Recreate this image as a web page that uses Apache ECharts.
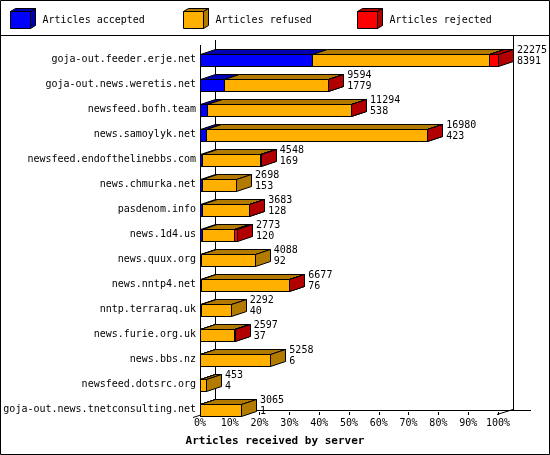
<!DOCTYPE html>
<html>
<head>
<meta charset="utf-8">
<script src="https://cdn.jsdelivr.net/npm/echarts@6/dist/echarts.min.js"></script>
<style>
  html, body { margin: 0; padding: 0; background: #fff; }
  #chart { width: 550px; height: 455px; }
</style>
</head>
<body>
<div id="chart"></div>
<script>
// servers, top to bottom
var servers = [
    'goja-out.feeder.erje.net',
    'goja-out.news.weretis.net',
    'newsfeed.bofh.team',
    'news.samoylyk.net',
    'newsfeed.endofthelinebbs.com',
    'news.chmurka.net',
    'pasdenom.info',
    'news.1d4.us',
    'news.quux.org',
    'news.nntp4.net',
    'nntp.terraraq.uk',
    'news.furie.org.uk',
    'news.bbs.nz',
    'newsfeed.dotsrc.org',
    'goja-out.news.tnetconsulting.net'
];
var accepted = [8391, 1779, 538, 423, 169, 153, 128, 120, 92, 76, 40, 37, 6, 4, 1];
var refused  = [13234, 7790, 10726, 16517, 4339, 2545, 3525, 2443, 3996, 6571, 2252, 2540, 5252, 449, 3064];
var rejected = [650, 25, 30, 40, 40, 0, 30, 210, 0, 30, 0, 20, 0, 0, 0];
var xTicks = [0, 10, 20, 30, 40, 50, 60, 70, 80, 90, 100];

var names  = ['Articles accepted', 'Articles refused', 'Articles rejected'];
var colors = ['#0000ff', '#ffb000', '#ff0000'];
var shades = ['#0000b2', '#b27b00', '#b20000'];
var FONT = '"DejaVu Sans Mono", "Liberation Mono", monospace';

var parts = [accepted, refused, rejected];
var totals = servers.map(function (s, i) { return accepted[i] + refused[i] + rejected[i]; });
var maxTotal = Math.max.apply(null, totals);
function pct(v) { return v / maxTotal * 100; }

// segments [index, start%, end%]
var segData = parts.map(function (arr, k) {
    return servers.map(function (s, i) {
        var start = 0;
        for (var j = 0; j < k; j++) start += parts[j][i];
        return [i, pct(start), pct(start + arr[i])];
    });
});
var labelData = servers.map(function (s, i) {
    return [i, pct(totals[i]), totals[i], accepted[i]];
});

var DX = 15, DY = 5;

function renderSeg(params, api) {
    var idx = api.value(0);
    var s = api.value(1), e = api.value(2);
    if (e - s <= 0) return null;
    var a = api.coord([s, idx]);
    var b = api.coord([e, idx]);
    var h = 12;
    var x0 = Math.round(a[0]) + 0.5, x1 = Math.round(b[0]) + 0.5;
    var y0 = Math.round(a[1] - h / 2) + 0.5, y1 = y0 + h;
    var k = params.seriesIndex;
    return {
        type: 'group',
        children: [
            { type: 'polygon', shape: { points: [[x0, y0], [x1, y0], [x1 + DX, y0 - DY], [x0 + DX, y0 - DY]] },
              style: { fill: shades[k], stroke: '#000', lineWidth: 1 } },
            { type: 'polygon', shape: { points: [[x1, y0], [x1 + DX, y0 - DY], [x1 + DX, y1 - DY], [x1, y1]] },
              style: { fill: shades[k], stroke: '#000', lineWidth: 1 } },
            { type: 'rect', shape: { x: x0, y: y0, width: x1 - x0, height: h },
              style: { fill: colors[k], stroke: '#000', lineWidth: 1 } }
        ]
    };
}

function renderLabel(params, api) {
    var p = api.coord([api.value(1), api.value(0)]);
    var x = p[0] + 19;
    return {
        type: 'group',
        children: [
            { type: 'text', style: { x: x, y: p[1] - 9.5, text: String(api.value(2)), fill: '#000',
              font: '10px ' + FONT, verticalAlign: 'middle' } },
            { type: 'text', style: { x: x, y: p[1] + 1.5, text: String(api.value(3)), fill: '#000',
              font: '10px ' + FONT, verticalAlign: 'middle' } }
        ]
    };
}

var chart = echarts.init(document.getElementById('chart'));

var series = names.map(function (n, k) {
    return {
        name: n,
        type: 'custom',
        renderItem: renderSeg,
        itemStyle: { color: colors[k] },
        encode: { x: [1, 2], y: 0 },
        data: segData[k]
    };
});
series.push({
    name: 'labels',
    type: 'custom',
    silent: true,
    renderItem: renderLabel,
    encode: { x: 1, y: 0 },
    data: labelData,
    z: 5
});

// legend boxes, one legend per item
var legendLeft = [10, 183, 357];
var legends = names.map(function (n, k) {
    return {
        data: [n],
        left: legendLeft[k],
        top: 11,
        padding: 0,
        icon: 'rect',
        itemWidth: 20,
        itemHeight: 17,
        itemStyle: { borderColor: '#000', borderWidth: 1 },
        selectedMode: false,
        textStyle: { fontFamily: FONT, fontSize: 10, color: '#000', padding: [1, 0, 0, 7] }
    };
});

var graphics = [
    { type: 'rect', shape: { x: 0.5, y: 0.5, width: 549, height: 454 }, style: { fill: 'none', stroke: '#000', lineWidth: 1 }, z: 0 },
    { type: 'line', shape: { x1: 0, y1: 35.5, x2: 550, y2: 35.5 }, style: { stroke: '#000', lineWidth: 1 }, z: 0 },
    { type: 'line', shape: { x1: 200.5, y1: 45, x2: 200.5, y2: 415 }, style: { stroke: '#000', lineWidth: 1 }, z: 0 },
    { type: 'line', shape: { x1: 215.5, y1: 40, x2: 215.5, y2: 410 }, style: { stroke: '#000', lineWidth: 1 }, z: 0 },
    { type: 'line', shape: { x1: 513.5, y1: 35, x2: 513.5, y2: 410 }, style: { stroke: '#000', lineWidth: 1 }, z: 0 },
    { type: 'line', shape: { x1: 215, y1: 410.5, x2: 531, y2: 410.5 }, style: { stroke: '#000', lineWidth: 1 }, z: 0 },
    { type: 'line', shape: { x1: 193, y1: 417.5, x2: 215, y2: 410.5 }, style: { stroke: '#000', lineWidth: 1 }, z: 0 },
    { type: 'line', shape: { x1: 497, y1: 414.5, x2: 513, y2: 409.5 }, style: { stroke: '#000', lineWidth: 1 }, z: 0 }
];
// 3D sides of legend boxes
legendLeft.forEach(function (l, k) {
    var x0 = l + 0.5, x1 = l + 20.5, y0 = 11.5, y1 = 28.5;
    graphics.push({ type: 'polygon', z: 10,
        shape: { points: [[x0, y0], [x1, y0], [x1 + 5, y0 - 3], [x0 + 5, y0 - 3]] },
        style: { fill: shades[k], stroke: '#000', lineWidth: 1 } });
    graphics.push({ type: 'polygon', z: 10,
        shape: { points: [[x1, y0], [x1 + 5, y0 - 3], [x1 + 5, y1 - 3], [x1, y1]] },
        style: { fill: shades[k], stroke: '#000', lineWidth: 1 } });
});

var option = {
    animation: false,
    backgroundColor: '#fff',
    color: colors,
    title: {
        text: 'Articles received by server',
        left: 'center',
        top: 436,
        padding: 0,
        textStyle: { fontFamily: FONT, fontSize: 11, fontWeight: 'bold', color: '#000' }
    },
    legend: legends,
    grid: { left: 200, right: 52, top: 47, height: 375, containLabel: false },
    xAxis: {
        type: 'value',
        min: xTicks[0],
        max: xTicks[xTicks.length - 1],
        interval: 10,
        offset: -7,
        splitLine: { show: false },
        axisLine: { show: false },
        axisTick: { show: true, inside: true, length: 3, lineStyle: { color: '#000' } },
        axisLabel: { formatter: '{value}%', fontFamily: FONT, fontSize: 10, color: '#000', margin: 3 }
    },
    yAxis: {
        type: 'category',
        inverse: true,
        data: servers,
        axisLine: { show: false },
        axisTick: { show: false },
        splitLine: { show: false },
        axisLabel: { fontFamily: FONT, fontSize: 10, color: '#000', margin: 4 }
    },
    graphic: graphics,
    series: series
};
chart.setOption(option);
</script>
</body>
</html>
